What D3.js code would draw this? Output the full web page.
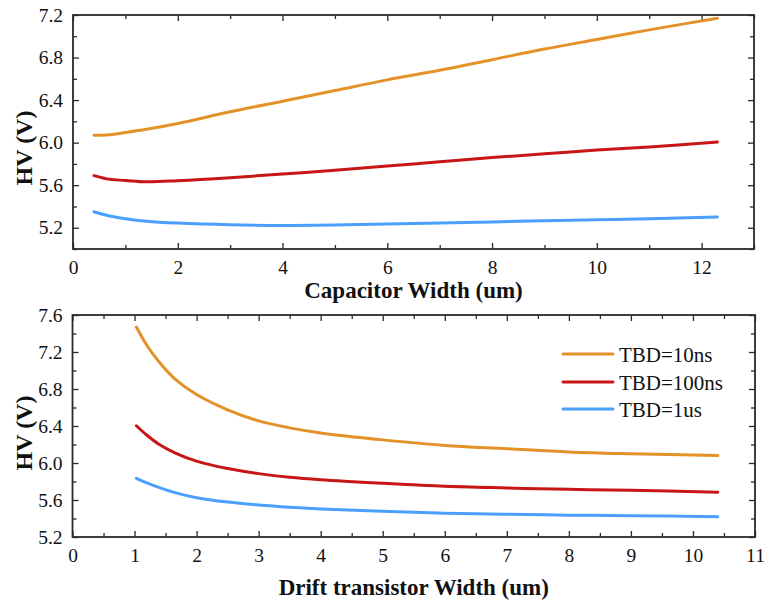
<!DOCTYPE html>
<html><head><meta charset="utf-8">
<script src="https://cdn.jsdelivr.net/npm/d3@7"></script>
<style>
body{margin:0;background:#fff}
svg{display:block}
svg text{font-family:"Liberation Serif", Tinos, "Times New Roman", Times, "DejaVu Serif", serif;}
</style>
</head><body>
<svg id="c" width="765" height="603"></svg>
<script>
// ---- data ----
const seriesNames = ["TBD=10ns", "TBD=100ns", "TBD=1us"];
const seriesColors = ["#E3922A", "#C81616", "#4A9FFF"];

const capWidth = [0.4, 0.7, 1, 1.4, 2, 3, 4, 5, 6, 7, 8, 9, 10, 11, 12.3];
const capHV10ns  = [6.07, 6.075, 6.095, 6.125, 6.18, 6.29, 6.39, 6.49, 6.59, 6.68, 6.78, 6.88, 6.97, 7.06, 7.17];
const capHV100ns = [5.69, 5.655, 5.645, 5.632, 5.642, 5.67, 5.705, 5.74, 5.78, 5.82, 5.86, 5.895, 5.93, 5.96, 6.005];
const capHV1us   = [5.35, 5.31, 5.285, 5.262, 5.244, 5.228, 5.222, 5.225, 5.235, 5.245, 5.255, 5.265, 5.275, 5.285, 5.30];

const driftWidth = [1.03, 1.2, 1.4, 1.65, 2, 2.5, 3, 3.5, 4, 5, 6, 7, 8, 9, 10.4];
const driftHV10ns  = [7.47, 7.27, 7.09, 6.91, 6.74, 6.575, 6.455, 6.38, 6.325, 6.25, 6.19, 6.155, 6.12, 6.10, 6.08];
const driftHV100ns = [6.403, 6.30, 6.20, 6.11, 6.02, 5.94, 5.885, 5.845, 5.818, 5.78, 5.748, 5.73, 5.715, 5.705, 5.685];
const driftHV1us   = [5.835, 5.785, 5.733, 5.68, 5.625, 5.578, 5.546, 5.522, 5.504, 5.478, 5.458, 5.446, 5.436, 5.43, 5.42];

const topXTicks = [0, 2, 4, 6, 8, 10, 12];
const topXMinor = [1, 3, 5, 7, 9, 11, 13];
const topYTicks = [5.2, 5.6, 6.0, 6.4, 6.8, 7.2];
const topYMinor = [5.0, 5.4, 5.8, 6.2, 6.6, 7.0];
const botXTicks = [0, 1, 2, 3, 4, 5, 6, 7, 8, 9, 10, 11];
const botXMinor = [0.5, 1.5, 2.5, 3.5, 4.5, 5.5, 6.5, 7.5, 8.5, 9.5, 10.5];
const botYTicks = [5.2, 5.6, 6.0, 6.4, 6.8, 7.2, 7.6];
const botYMinor = [5.4, 5.8, 6.2, 6.6, 7.0, 7.4];

const svg = d3.select("#c");
const FONT = "Liberation Serif";
const AXC = "#2a2a2a";

function panel(cfg) {
  const x = d3.scaleLinear().domain(cfg.xDomain).range([cfg.left, cfg.right]);
  const y = d3.scaleLinear().domain(cfg.yDomain).range([cfg.bottom, cfg.top]);
  const g = svg.append("g");

  function styleAxis(sel) {
    sel.attr("font-family", null);
    sel.select(".domain").remove();
    sel.selectAll("line").attr("stroke", AXC).attr("stroke-width", 1.3);
    sel.selectAll("text").attr("font-family", FONT).attr("font-size", 19.5).attr("fill", "#111");
  }
  // bottom
  g.append("g").attr("transform", `translate(0,${cfg.bottom})`)
    .call(d3.axisBottom(x).tickValues(cfg.xTicks).tickSize(-6).tickPadding(11).tickFormat(d3.format("d"))).call(styleAxis);
  g.append("g").attr("transform", `translate(0,${cfg.bottom})`)
    .call(d3.axisBottom(x).tickValues(cfg.xMinor).tickSize(-4).tickFormat("")).call(styleAxis);
  // top
  g.append("g").attr("transform", `translate(0,${cfg.top})`)
    .call(d3.axisTop(x).tickValues(cfg.xTicks).tickSize(-6).tickFormat("")).call(styleAxis);
  g.append("g").attr("transform", `translate(0,${cfg.top})`)
    .call(d3.axisTop(x).tickValues(cfg.xMinor).tickSize(-4).tickFormat("")).call(styleAxis);
  // left
  g.append("g").attr("transform", `translate(${cfg.left},0)`)
    .call(d3.axisLeft(y).tickValues(cfg.yTicks).tickSize(-6).tickPadding(10).tickFormat(d3.format(".1f"))).call(styleAxis);
  g.append("g").attr("transform", `translate(${cfg.left},0)`)
    .call(d3.axisLeft(y).tickValues(cfg.yMinor).tickSize(-4).tickFormat("")).call(styleAxis);
  // right
  g.append("g").attr("transform", `translate(${cfg.right},0)`)
    .call(d3.axisRight(y).tickValues(cfg.yTicks).tickSize(-6).tickFormat("")).call(styleAxis);
  g.append("g").attr("transform", `translate(${cfg.right},0)`)
    .call(d3.axisRight(y).tickValues(cfg.yMinor).tickSize(-4).tickFormat("")).call(styleAxis);

  // frame
  g.append("rect").attr("x", cfg.left).attr("y", cfg.top)
    .attr("width", cfg.right - cfg.left).attr("height", cfg.bottom - cfg.top)
    .attr("fill", "none").attr("stroke", AXC).attr("stroke-width", 1.8);

  const line = d3.line().x(d => x(d[0])).y(d => y(d[1])).curve(d3.curveCatmullRom.alpha(0.5));
  cfg.series.forEach((vals, i) => {
    g.append("path").datum(cfg.xs.map((xv, j) => [xv, vals[j]]))
      .attr("d", line).attr("fill", "none").attr("stroke", seriesColors[i])
      .attr("stroke-width", 3).attr("stroke-linecap", "round");
  });

  // titles
  g.append("text").attr("x", (cfg.left + cfg.right) / 2).attr("y", cfg.xTitleY)
    .attr("text-anchor", "middle").attr("font-family", FONT).attr("font-weight", "bold")
    .attr("font-size", 23).attr("fill", "#111").text(cfg.xTitle);
  g.append("text").attr("transform", `translate(${cfg.yTitleX},${cfg.yTitleYc}) rotate(-90)`)
    .attr("text-anchor", "middle").attr("font-family", FONT).attr("font-weight", "bold")
    .attr("font-size", 24).attr("fill", "#111").text("HV (V)");
  return {x, y, g};
}

panel({
  left: 73, right: 754, top: 15, bottom: 249,
  xDomain: [0, 13], yDomain: [5.0, 7.2],
  xTicks: topXTicks, xMinor: topXMinor, yTicks: topYTicks, yMinor: topYMinor,
  xs: capWidth, series: [capHV10ns, capHV100ns, capHV1us],
  xTitle: "Capacitor Width (um)", xTitleY: 298, yTitleX: 32, yTitleYc: 148
});

const bot = panel({
  left: 72.5, right: 755, top: 315, bottom: 537,
  xDomain: [0, 11], yDomain: [5.2, 7.6],
  xTicks: botXTicks, xMinor: botXMinor, yTicks: botYTicks, yMinor: botYMinor,
  xs: driftWidth, series: [driftHV10ns, driftHV100ns, driftHV1us],
  xTitle: "Drift transistor Width (um)", xTitleY: 595, yTitleX: 32, yTitleYc: 433
});

// legend
const legY = [354, 382, 409];
seriesNames.forEach((name, i) => {
  bot.g.append("line").attr("x1", 563).attr("x2", 613).attr("y1", legY[i]).attr("y2", legY[i])
    .attr("stroke", seriesColors[i]).attr("stroke-width", 3).attr("stroke-linecap", "round");
  bot.g.append("text").attr("x", 619).attr("y", legY[i]).attr("dy", "0.36em")
    .attr("font-family", FONT).attr("font-size", 21).attr("fill", "#111").text(name);
});
</script>
</body></html>
